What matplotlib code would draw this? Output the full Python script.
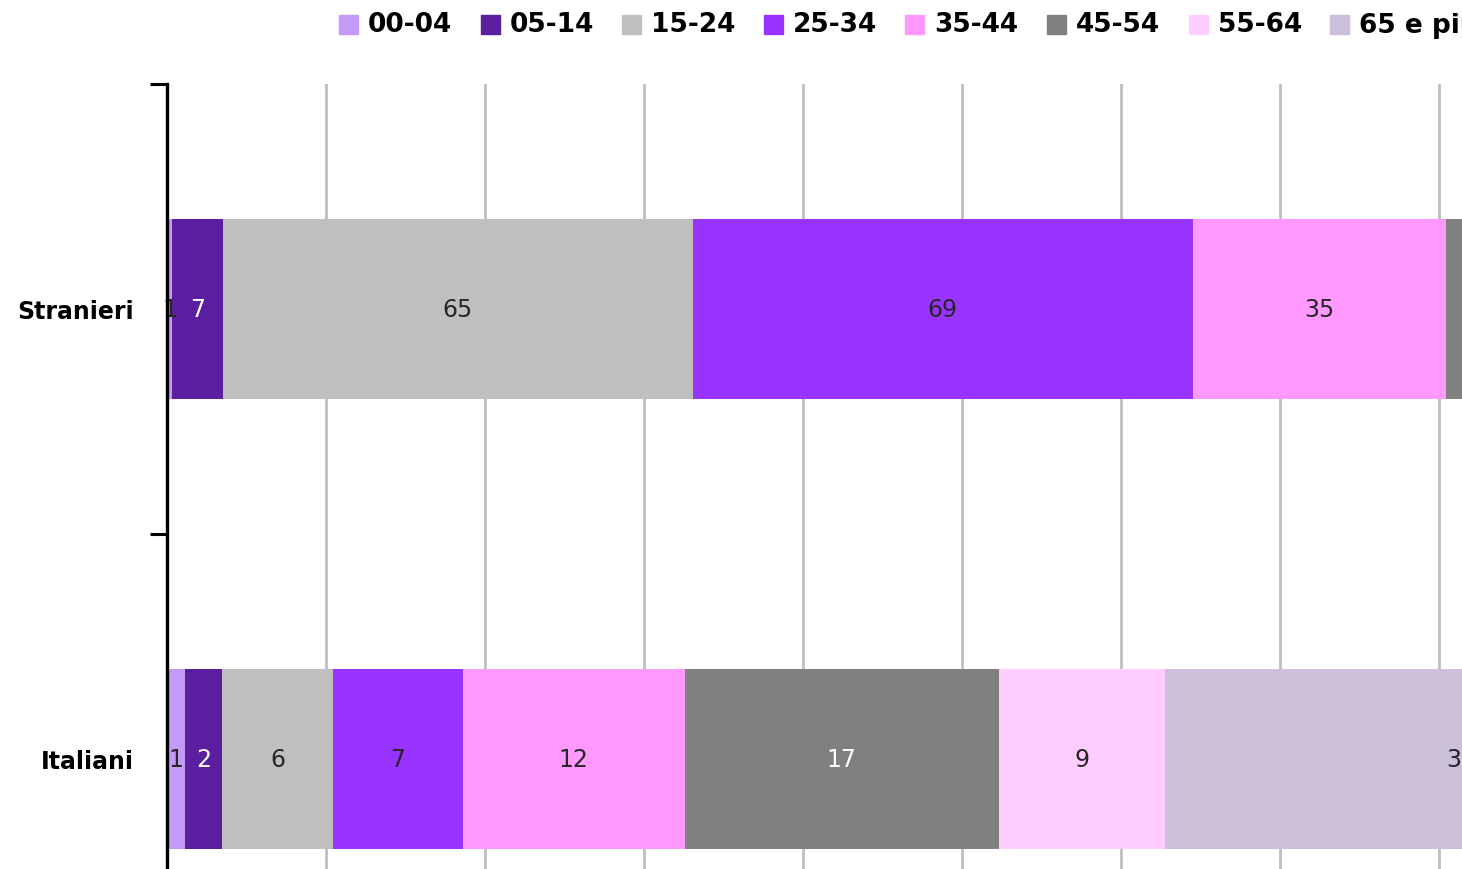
import numpy as np
import matplotlib.pyplot as plt
from matplotlib.patches import Rectangle

# data (counts per age band); bars are shown as 100% stacked
categories = ['Italiani', 'Stranieri']
age_bands = ['00-04', '05-14', '15-24', '25-34', '35-44', '45-54', '55-64', '65 e più']
italiani = [1, 2, 6, 7, 12, 17, 9, 32]
stranieri = [0.7, 7, 65, 69, 35, 24, 12, 7]
stranieri_labels = ['1', '7', '65', '69', '35', '24', '12', '7']
italiani_labels = [str(v) for v in italiani]

colors = ['#C39BF7', '#5B1E9E', '#BFBFBF', '#9933FF', '#FF99FF', '#808080', '#FFCCFF', '#CCC0DA']
label_colors = ['#262626', 'white', '#262626', '#262626', '#262626', 'white', '#262626', '#262626']

W, H = 1462, 870
fig = plt.figure(figsize=(W / 100, H / 100), dpi=100)
# plot area extends past the right / bottom edge (reference is a crop)
ax_left, ax_width = 167, 1590
ax = fig.add_axes([ax_left / W, (H - 985) / H, ax_width / W, 900 / H])
visible_max = (W - ax_left) / ax_width * 100

values = np.array([italiani, stranieri], dtype=float)
pct = values / values.sum(axis=1, keepdims=True) * 100
labels = [italiani_labels, stranieri_labels]
ypos = [0.5, 1.5]

left = np.zeros(2)
for j, band in enumerate(age_bands):
    ax.barh(ypos, pct[:, j], left=left, height=0.4, color=colors[j], zorder=2)
    for i in range(2):
        xc = left[i] + pct[i, j] / 2
        if xc > visible_max:
            continue  # label falls outside the cropped picture
        ax.text(xc, ypos[i], labels[i][j], ha='center', va='center',
                fontsize=17, color=label_colors[j], zorder=3)
    left += pct[:, j]

ax.set_xlim(0, 100)
ax.set_ylim(0, 2)
ax.set_xticks(np.arange(0, 101, 10))
ax.tick_params(axis='x', length=0, labelbottom=False)
ax.grid(axis='x', color='#BFBFBF', linewidth=2, zorder=0)

ax.set_yticks([0, 1, 2])
ax.set_yticklabels([])
ax.tick_params(axis='y', which='major', length=12, width=2.2, color='black')
ax.set_yticks(ypos, minor=True)
ax.set_yticklabels(categories, minor=True, fontsize=17, fontweight='bold')
ax.tick_params(axis='y', which='minor', length=0, pad=24)

for s in ['top', 'right', 'bottom']:
    ax.spines[s].set_visible(False)
ax.spines['left'].set_linewidth(2.4)
ax.spines['left'].set_zorder(4)

# legend along the top, drawn in pixel coordinates
for j, band in enumerate(age_bands):
    x0 = 339 + j * 141.6
    fig.patches.append(Rectangle((x0 / W, (H - 35) / H), 19 / W, 19 / H,
                                 transform=fig.transFigure, color=colors[j]))
    fig.text((x0 + 29) / W, (H - 25) / H, band, fontsize=19, fontweight='bold',
             ha='left', va='center', color='black')

fig.savefig('out.png', dpi=100)
